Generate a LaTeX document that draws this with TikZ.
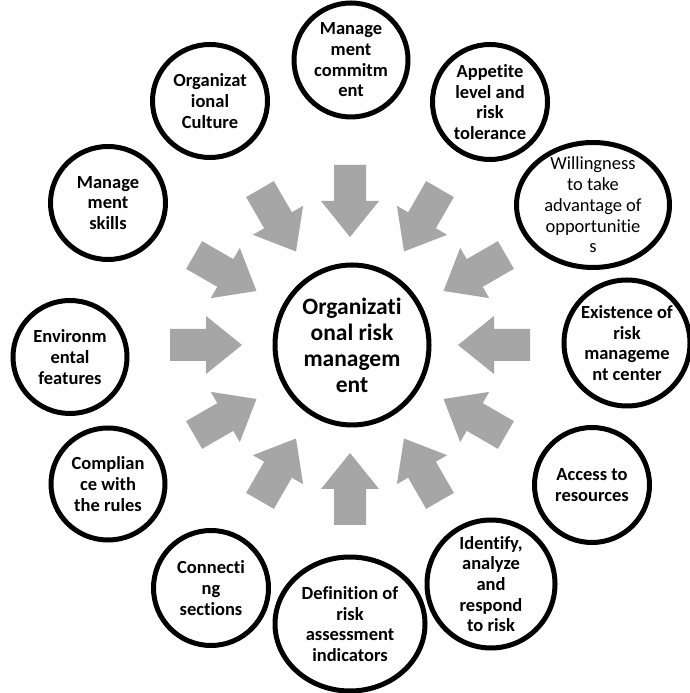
\documentclass[tikz,border=0pt]{standalone}
\usepackage{fontspec}
\setmainfont[Ligatures={NoCommon}]{Carlito}
\usetikzlibrary{shapes.geometric}
\begin{document}
\begin{tikzpicture}[x=1pt,y=1pt,
  ring/.style={draw=black, line width=5pt, fill=white, ellipse, inner sep=0pt},
  lbl/.style={align=center, font=\fontsize{18.5}{20.7}\selectfont\bfseries, inner sep=0pt},
  lbllight/.style={align=center, font=\fontsize{18.5}{20.7}\selectfont, inner sep=0pt},
  bigl/.style={align=center, font=\fontsize{23.5}{26}\selectfont\bfseries, inner sep=0pt},
  blockarrow/.style={fill=black!35, draw=none}]
\fill[white] (0,0) rectangle (690,693);
\useasboundingbox (0,0) rectangle (690,693);
% arrows
\foreach \a in {0,30,...,330}{
  \fill[blockarrow, shift={(350,348)}, rotate=\a]
    (180,-16) -- (144,-16) -- (144,-29) -- (108,0) -- (144,29) -- (144,16) -- (180,16) -- cycle;
}
% center
\node[ring, minimum width=154pt, minimum height=160pt] (c) at (352,348) {};
\node[bigl] (ct) at (c) {Organizati\\onal risk\\managem\\ent};
% outer circles
\node[ring, minimum width=114pt, minimum height=114pt] (n1) at (351,633) {};
\node[lbl] at (n1) {Manage\\ment\\commitm\\ent};
\node[ring, minimum width=115pt, minimum height=115pt] (n2) at (490,591) {};
\node[lbl] at (n2) {Appetite\\level and\\risk\\tolerance};
\node[ring, minimum width=153pt, minimum height=125pt] (n3) at (593,488) {};
\node[lbllight] at (n3) {Willingness\\to take\\advantage of\\opportunitie\\s};
\node[ring, minimum width=126pt, minimum height=126pt] (n4) at (627,350) {};
\node[lbl] at (n4) {Existence of\\risk\\manageme\\nt center};
\node[ring, minimum width=115pt, minimum height=115pt] (n5) at (592,208) {};
\node[lbl] at (n5) {Access to\\resources};
\node[ring, minimum width=128pt, minimum height=128pt] (n6) at (491,109) {};
\node[lbl] at (n6) {Identify,\\analyze\\and\\respond\\to risk};
\node[ring, minimum width=150pt, minimum height=134pt] (n7) at (350,69) {};
\node[lbl] at (n7) {Definition of\\risk\\assessment\\indicators};
\node[ring, minimum width=115pt, minimum height=115pt] (n8) at (211,105) {};
\node[lbl] at (n8) {Connecti\\ng\\sections};
\node[ring, minimum width=114pt, minimum height=112pt] (n9) at (108,209) {};
\node[lbl] at (n9) {Complian\\ce with\\the rules};
\node[ring, minimum width=114pt, minimum height=113pt] (n10) at (70,336) {};
\node[lbl] at (n10) {Environm\\ental\\features};
\node[ring, minimum width=115pt, minimum height=113pt] (n11) at (108,490) {};
\node[lbl] at (n11) {Manage\\ment\\skills};
\node[ring, minimum width=115pt, minimum height=113pt] (n12) at (210,592) {};
\node[lbl] at (n12) {Organizat\\ional\\Culture};
\end{tikzpicture}
\end{document}
